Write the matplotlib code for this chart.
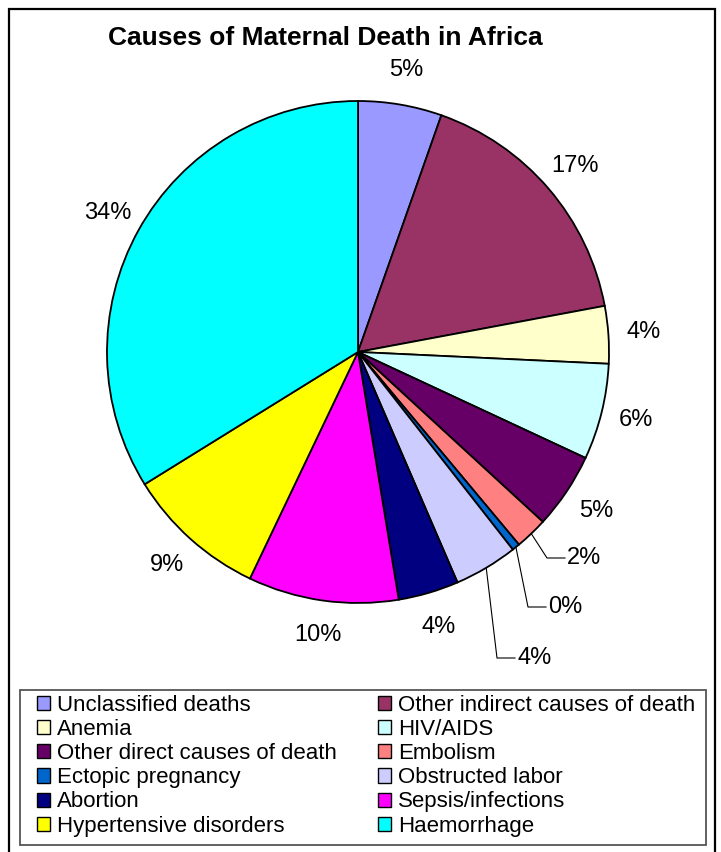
import numpy as np
import matplotlib
matplotlib.use("Agg")
import matplotlib.pyplot as plt
from matplotlib.patches import Patch, Rectangle

plt.rcParams['font.family'] = ['Liberation Sans', 'DejaVu Sans']

categories = ["Unclassified deaths", "Other indirect causes of death", "Anemia", "HIV/AIDS",
              "Other direct causes of death", "Embolism", "Ectopic pregnancy", "Obstructed labor",
              "Abortion", "Sepsis/infections", "Hypertensive disorders", "Haemorrhage"]
values = [5.4, 16.7, 3.7, 6.2, 4.9, 2.1, 0.5, 4.1, 3.9, 9.7, 9.1, 33.9]
colors = ["#9999FF", "#993366", "#FFFFCC", "#CCFFFF", "#660066", "#FF8080",
          "#0066CC", "#CCCCFF", "#000080", "#FF00FF", "#FFFF00", "#00FFFF"]

W, H = 721, 852
fig = plt.figure(figsize=(W / 100, H / 100), dpi=100)

# outer border
fig.add_artist(Rectangle((9 / W, -0.02), (715 - 9) / W, 1 - 9 / H + 0.02,
                         transform=fig.transFigure, fill=False, edgecolor='black', lw=1.6))

cx, cy, R = 358, 352, 251
ax = fig.add_axes([(cx - R) / W, (H - cy - R) / H, 2 * R / W, 2 * R / H])
wedges, texts, autotexts = ax.pie(values, colors=colors, startangle=90, counterclock=False,
                                  autopct='%1.0f%%', pctdistance=1.14,
                                  wedgeprops=dict(edgecolor='black', linewidth=1.3),
                                  textprops=dict(fontsize=17, color='black'))
ax.set_xlim(-1, 1)
ax.set_ylim(-1, 1)
ax.set_aspect('equal')
ax.axis('off')

# leader-line labels for the small slices: (knee x, knee y) in px; text starts right after knee
leaders = {5: (547, 558), 6: (528, 607), 7: (497, 658)}
for idx, (kx, ky) in leaders.items():
    w = wedges[idx]
    mid = np.deg2rad((w.theta1 + w.theta2) / 2)
    ex, ey = np.cos(mid), np.sin(mid)
    kdx, kdy = (kx - cx) / R, (cy - ky) / R
    tdx = kdx + 18 / R
    ax.plot([ex, kdx, tdx], [ey, kdy, kdy], color='black', lw=0.8, clip_on=False)
    t = autotexts[idx]
    t.set_position((tdx + 2 / R, kdy))
    t.set_ha('left')
    t.set_va('center')

fig.text(325 / W, 1 - 38 / H, "Causes of Maternal Death in Africa", ha='center', va='center',
         fontsize=19, fontweight='bold')

# legend frame
fig.add_artist(Rectangle((20 / W, (H - 845) / H), (706 - 20) / W, (845 - 690) / H,
                         transform=fig.transFigure, fill=False, edgecolor='#555555', lw=1.3))

# row-major order for two columns
order = list(range(0, 12, 2)) + list(range(1, 12, 2))
handles = [Patch(facecolor=colors[i], edgecolor='black', linewidth=1.0) for i in order]
labels = [categories[i] for i in order]
leg = fig.legend(handles, labels, ncol=2, loc='upper left', mode='expand',
                 bbox_to_anchor=(37 / W, 0, (695 - 37) / W, (H - 695) / H),
                 bbox_transform=fig.transFigure,
                 fontsize=16, frameon=False,
                 handlelength=0.6, handleheight=0.6, handletextpad=0.3,
                 labelspacing=0.14, columnspacing=1.0, borderpad=0, borderaxespad=0)

fig.savefig("out.png", dpi=100, facecolor='white')
